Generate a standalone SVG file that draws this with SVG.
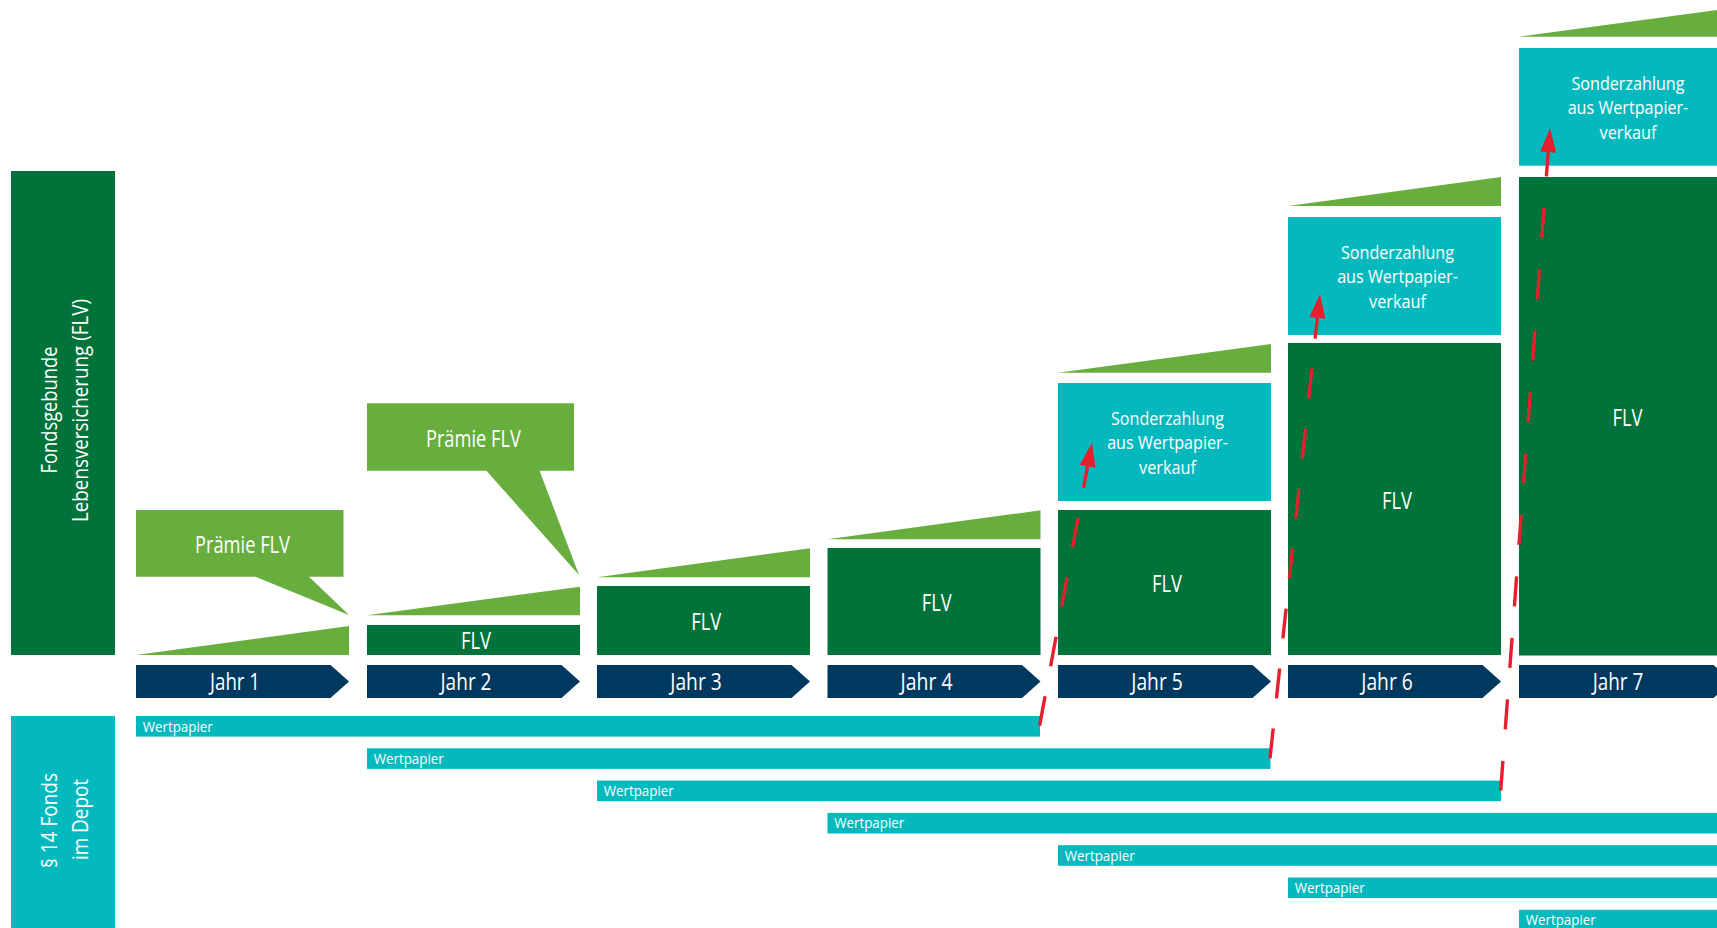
<svg xmlns="http://www.w3.org/2000/svg" xmlns:xlink="http://www.w3.org/1999/xlink" width="1717" height="928" viewBox="0 0 1717 928">
<style>
  .dg{fill:#00733a}
  .lg{fill:#68ae3e}
  .cy{fill:#03b9be}
  .nv{fill:#00395f}
  .t{font-family:"Open Sans","Liberation Sans",sans-serif;fill:#ffffff;text-anchor:middle}
  .tl{font-family:"Open Sans","Liberation Sans",sans-serif;fill:#ffffff;text-anchor:start}
  .j{font-size:23px}
  .f{font-size:23px}
  .s{font-size:19px}
  .w{font-size:14px}
  .side{font-size:22px}
  .red{stroke:#e5202e;stroke-width:3.4;fill:none}
  .head{fill:#e5202e}
</style>
<defs>
  <path id="jahr" d="M0 665 H194.5 L213 681.5 L194.5 698 H0 Z"/>
</defs>
<rect width="1717" height="928" fill="#ffffff"/>

<g id="label-flv">
  <rect class="dg" x="11" y="171" width="104" height="484"/>
  <text class="t side" transform="translate(57 410) rotate(-90)" textLength="127" lengthAdjust="spacingAndGlyphs">Fondsgebunde</text>
  <text class="t side" transform="translate(88 410.5) rotate(-90)" textLength="223" lengthAdjust="spacingAndGlyphs">Lebensversicherung (FLV)</text>
</g>
<g id="label-depot">
  <rect class="cy" x="11" y="716" width="104" height="212"/>
  <text class="t side" transform="translate(57 820.5) rotate(-90)" textLength="95" lengthAdjust="spacingAndGlyphs">§ 14 Fonds</text>
  <text class="t side" transform="translate(88 819.5) rotate(-90)" textLength="81" lengthAdjust="spacingAndGlyphs">im Depot</text>
</g>

<!-- Year 1 -->
<g id="jahr1">
  <polygon class="lg" points="136,655 349,626 349,655"/>
  <polygon class="lg" points="136,510 343.5,510 343.5,576.7 309,576.7 349,615 255.5,576.7 136,576.7"/>
  <text class="t f" x="242.5" y="553.3" textLength="95" lengthAdjust="spacingAndGlyphs">Prämie FLV</text>
  <use href="#jahr" class="nv" x="136"/>
  <text class="t j" x="235" y="690" textLength="50" lengthAdjust="spacingAndGlyphs">Jahr 1</text>
</g>

<!-- Year 2 -->
<g id="jahr2">
  <polygon class="lg" points="367,615.3 580,586.7 580,615.3"/>
  <polygon class="lg" points="367,403.3 574,403.3 574,470.7 539.6,470.7 579,575 486.4,470.7 367,470.7"/>
  <text class="t f" x="473.4" y="446.7" textLength="95" lengthAdjust="spacingAndGlyphs">Prämie FLV</text>
  <rect class="dg" x="367" y="625" width="213" height="30"/>
  <text class="t f" x="476" y="649.3" textLength="30" lengthAdjust="spacingAndGlyphs">FLV</text>
  <use href="#jahr" class="nv" x="367"/>
  <text class="t j" x="466" y="690" textLength="51" lengthAdjust="spacingAndGlyphs">Jahr 2</text>
</g>

<!-- Year 3 -->
<g id="jahr3">
  <polygon class="lg" points="597,577.3 810,548.3 810,577.3"/>
  <rect class="dg" x="597" y="586" width="213" height="69"/>
  <text class="t f" x="706.3" y="630" textLength="30" lengthAdjust="spacingAndGlyphs">FLV</text>
  <use href="#jahr" class="nv" x="597"/>
  <text class="t j" x="696" y="690" textLength="51.5" lengthAdjust="spacingAndGlyphs">Jahr 3</text>
</g>

<!-- Year 4 -->
<g id="jahr4">
  <polygon class="lg" points="827.5,539.3 1040.5,510.3 1040.5,539.3"/>
  <rect class="dg" x="827.5" y="548" width="213" height="107"/>
  <text class="t f" x="936.7" y="611" textLength="30" lengthAdjust="spacingAndGlyphs">FLV</text>
  <use href="#jahr" class="nv" x="827.5"/>
  <text class="t j" x="926.5" y="690" textLength="52" lengthAdjust="spacingAndGlyphs">Jahr 4</text>
</g>

<!-- Year 5 -->
<g id="jahr5">
  <polygon class="lg" points="1058,372.7 1271,344 1271,372.7"/>
  <rect class="cy" x="1058" y="383" width="213" height="118"/>
  <text class="t s" x="1167.5" y="424.5" textLength="113" lengthAdjust="spacingAndGlyphs">Sonderzahlung</text>
  <text class="t s" x="1167.5" y="449" textLength="120.7" lengthAdjust="spacingAndGlyphs">aus Wertpapier-</text>
  <text class="t s" x="1167.5" y="473.5" textLength="57" lengthAdjust="spacingAndGlyphs">verkauf</text>
  <rect class="dg" x="1058" y="510" width="213" height="145"/>
  <text class="t f" x="1167" y="591.7" textLength="30" lengthAdjust="spacingAndGlyphs">FLV</text>
  <use href="#jahr" class="nv" x="1058"/>
  <text class="t j" x="1157" y="690" textLength="51.5" lengthAdjust="spacingAndGlyphs">Jahr 5</text>
</g>

<!-- Year 6 -->
<g id="jahr6">
  <polygon class="lg" points="1288,206 1501,177 1501,206"/>
  <rect class="cy" x="1288" y="217" width="213" height="118"/>
  <text class="t s" x="1397.5" y="258.5" textLength="113" lengthAdjust="spacingAndGlyphs">Sonderzahlung</text>
  <text class="t s" x="1397.5" y="283" textLength="120.7" lengthAdjust="spacingAndGlyphs">aus Wertpapier-</text>
  <text class="t s" x="1397.5" y="307.5" textLength="57" lengthAdjust="spacingAndGlyphs">verkauf</text>
  <rect class="dg" x="1288" y="343" width="213" height="312"/>
  <text class="t f" x="1397" y="509.3" textLength="30" lengthAdjust="spacingAndGlyphs">FLV</text>
  <use href="#jahr" class="nv" x="1288"/>
  <text class="t j" x="1387" y="690" textLength="51.5" lengthAdjust="spacingAndGlyphs">Jahr 6</text>
</g>

<!-- Year 7 -->
<g id="jahr7">
  <polygon class="lg" points="1519,36.7 1732,8 1732,36.7"/>
  <rect class="cy" x="1519" y="48" width="213" height="117.7"/>
  <text class="t s" x="1628" y="89.5" textLength="113" lengthAdjust="spacingAndGlyphs">Sonderzahlung</text>
  <text class="t s" x="1628" y="114" textLength="120.7" lengthAdjust="spacingAndGlyphs">aus Wertpapier-</text>
  <text class="t s" x="1628" y="138.5" textLength="57" lengthAdjust="spacingAndGlyphs">verkauf</text>
  <rect class="dg" x="1519" y="177" width="213" height="478.5"/>
  <text class="t f" x="1627.5" y="426" textLength="30" lengthAdjust="spacingAndGlyphs">FLV</text>
  <use href="#jahr" class="nv" x="1519"/>
  <text class="t j" x="1618" y="690" textLength="50.5" lengthAdjust="spacingAndGlyphs">Jahr 7</text>
</g>

<!-- Wertpapier bars -->
<g id="wertpapier1">
  <rect class="cy" x="136" y="716" width="904" height="20.6"/>
  <text class="tl w" x="142.7" y="731.5" textLength="70" lengthAdjust="spacingAndGlyphs">Wertpapier</text>
</g>
<g id="wertpapier2">
  <rect class="cy" x="367" y="748.3" width="903.5" height="20.6"/>
  <text class="tl w" x="373.7" y="763.8" textLength="70" lengthAdjust="spacingAndGlyphs">Wertpapier</text>
</g>
<g id="wertpapier3">
  <rect class="cy" x="597" y="780.6" width="904" height="20.6"/>
  <text class="tl w" x="603.7" y="796.1" textLength="70" lengthAdjust="spacingAndGlyphs">Wertpapier</text>
</g>
<g id="wertpapier4">
  <rect class="cy" x="827.5" y="812.9" width="889.5" height="20.6"/>
  <text class="tl w" x="834.2" y="828.4" textLength="70" lengthAdjust="spacingAndGlyphs">Wertpapier</text>
</g>
<g id="wertpapier5">
  <rect class="cy" x="1058" y="845.2" width="659" height="20.6"/>
  <text class="tl w" x="1064.7" y="860.7" textLength="70" lengthAdjust="spacingAndGlyphs">Wertpapier</text>
</g>
<g id="wertpapier6">
  <rect class="cy" x="1288" y="877.5" width="429" height="20.6"/>
  <text class="tl w" x="1294.7" y="893" textLength="70" lengthAdjust="spacingAndGlyphs">Wertpapier</text>
</g>
<g id="wertpapier7">
  <rect class="cy" x="1519" y="909.8" width="198" height="20.6"/>
  <text class="tl w" x="1525.7" y="925.3" textLength="70" lengthAdjust="spacingAndGlyphs">Wertpapier</text>
</g>

<!-- connectors -->
<g id="connectors">
  <path class="red" d="M1039.6 725.7 L1088.1 463.4" stroke-dasharray="30 30.5"/>
  <polygon class="head" points="1092,442.7 1095.5,467.8 1079.8,464.8"/>
  <path class="red" d="M1270 758.3 L1317.7 314.9" stroke-dasharray="30 30.3"/>
  <polygon class="head" points="1320,294 1325.4,318.8 1309.5,317.0"/>
  <path class="red" d="M1500.7 790.7 L1548.4 149.2" stroke-dasharray="30 31.6"/>
  <polygon class="head" points="1550,128.3 1556.2,152.8 1540.2,151.6"/>
</g>
</svg>
